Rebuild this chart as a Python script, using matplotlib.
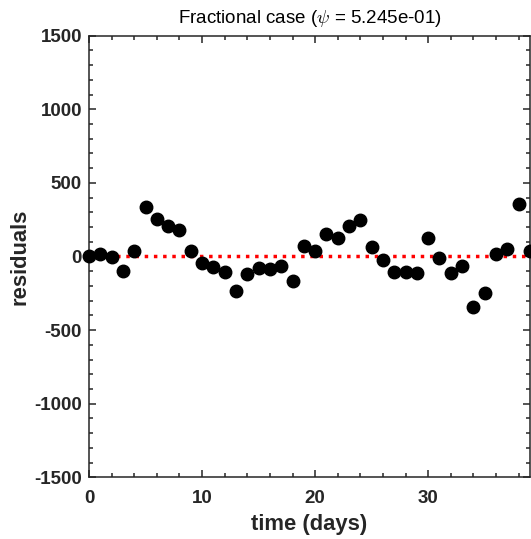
import numpy as np
import matplotlib
matplotlib.use('Agg')
import matplotlib.pyplot as plt
from matplotlib.ticker import MultipleLocator

# residuals (one per day)
dias = list(range(40))
residuos = [0, 15, -5, -98, 37, 338, 257, 207, 178, 39,
            -46, -71, -105, -237, -117, -76, -83, -67, -164, 71,
            37, 153, 128, 209, 246, 62, -26, -105, -105, -112,
            126, -8, -112, -62, -345, -246, 15, 53, 355, 37]
psi = 5.245e-01

plt.rcParams['font.family'] = ['Liberation Sans', 'DejaVu Sans']
plt.rcParams['axes.unicode_minus'] = False
plt.rcParams['mathtext.fontset'] = 'cm'
gris = '#262626'

fig = plt.figure(figsize=(5.31, 5.39), dpi=100)
ax = fig.add_axes([0.1676, 0.1145, 0.8304, 0.8193])

ax.plot([dias[0], dias[-1]], [0, 0], color='red', linestyle=':', linewidth=2.5, zorder=2)
ax.plot(dias, residuos, 'o', color='black', markersize=9, zorder=3, clip_on=False)

ax.set_xlim(0, 39)
ax.set_ylim(-1500, 1500)
ax.xaxis.set_major_locator(MultipleLocator(10))
ax.xaxis.set_minor_locator(MultipleLocator(2))
ax.yaxis.set_major_locator(MultipleLocator(500))
ax.yaxis.set_minor_locator(MultipleLocator(100))
ax.tick_params(which='both', direction='in', top=True, right=True, color=gris,
               width=1.1, labelcolor=gris)
ax.tick_params(which='major', length=5, labelsize=13.5)
ax.tick_params(axis='x', which='major', pad=9)
ax.tick_params(axis='y', which='major', pad=5)
ax.tick_params(which='minor', length=3)
for lab in ax.get_xticklabels() + ax.get_yticklabels():
    lab.set_fontweight('bold')
for s in ax.spines.values():
    s.set_color(gris)
    s.set_linewidth(1.1)

ax.set_xlabel('time (days)', fontsize=15.8, fontweight='bold', color=gris, labelpad=5)
ax.set_ylabel('residuals', fontsize=15.8, fontweight='bold', color=gris, labelpad=3)
ax.set_title(r'Fractional case ($\psi$ = %.3e)' % psi, fontsize=13.5, color='black', pad=9)

fig.savefig('out.png', dpi=100)
